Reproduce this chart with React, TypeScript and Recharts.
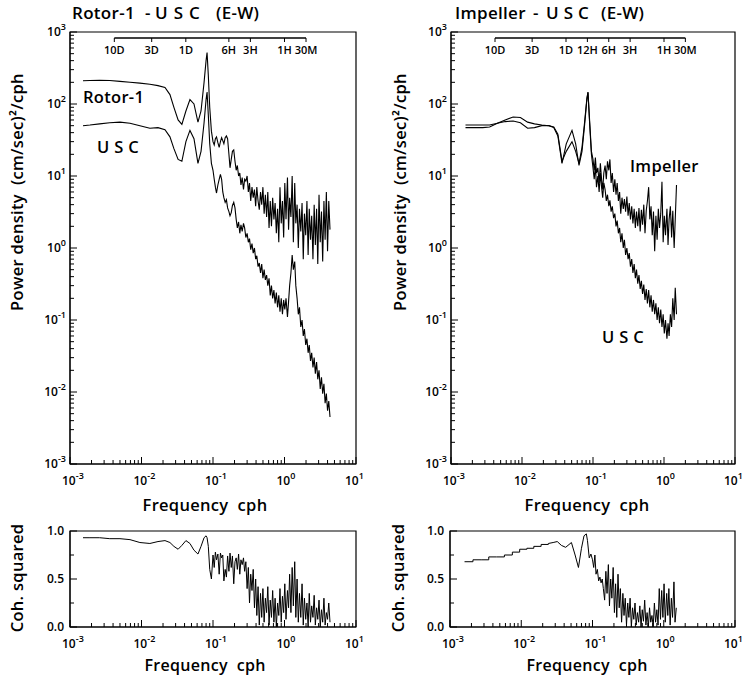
import React from "react";
import { LineChart, Line, XAxis, YAxis, ReferenceLine, ReferenceArea } from "recharts";

const FONT = "'Open Sans', 'Liberation Sans', sans-serif";

// ---- Rotor-1 / USC panel (frequency in cph) ----
const freqL = [
  0.00152, 0.0019, 0.0026, 0.0036, 0.005, 0.0069, 0.0095, 0.0131, 0.017, 0.0213,
  0.025, 0.0284, 0.0325, 0.0367, 0.0418, 0.0476, 0.0542, 0.0616, 0.068, 0.075,
  0.08, 0.0826, 0.086, 0.09, 0.095,
  0.100, 0.104, 0.108, 0.112, 0.117, 0.122, 0.127, 0.132, 0.137, 0.142,
  0.148, 0.154, 0.160, 0.167, 0.173, 0.180, 0.187, 0.195, 0.203, 0.211,
  0.219, 0.228, 0.237, 0.246, 0.256, 0.267, 0.277, 0.288, 0.300, 0.312,
  0.324, 0.337, 0.351, 0.365, 0.380, 0.395, 0.410, 0.427, 0.444, 0.462,
  0.480, 0.499, 0.519, 0.540, 0.562, 0.584, 0.608, 0.632, 0.657, 0.683,
  0.711, 0.739, 0.769, 0.800, 0.832, 0.865, 0.900, 0.936, 0.973, 1.01,
  1.05, 1.10, 1.14, 1.18, 1.23, 1.28, 1.33, 1.39, 1.44, 1.50,
  1.56, 1.62, 1.69, 1.76, 1.83, 1.90, 1.98, 2.06, 2.14, 2.22,
  2.31, 2.40, 2.50, 2.60, 2.70, 2.81, 2.92, 3.04, 3.16, 3.29,
  3.42, 3.56, 3.70, 3.85, 4.00, 4.16, 4.33,
];

const rotor1 = [
  210, 212, 214, 212, 206, 200, 195, 188, 180, 170,
  135, 90, 60, 52, 80, 115, 100, 56, 80, 200,
  400, 520, 250, 90, 42,
  30, 27, 33, 35, 29, 25, 30, 34, 31, 28,
  34, 36, 33, 20, 13, 17, 22, 23, 16, 12,
  14, 10, 11, 7.5, 9.5, 6.5, 9, 8.5, 10, 6,
  8, 4.5, 7, 5, 6.5, 3.8, 7, 4.5, 3.4, 6,
  4, 7, 3, 5.5, 2.7, 6, 1.9, 4.5, 2, 5,
  2.5, 4.2, 1.6, 3.5, 1.2, 7, 2.2, 4.5, 1.4, 8,
  2.5, 9.5, 1.8, 5, 2.7, 10, 1.2, 8, 2.2, 4,
  1.0, 3.5, 1.7, 4.2, 0.7, 3, 1.5, 4.5, 0.8, 3.5,
  1.3, 2.8, 0.7, 4, 1.1, 3.5, 0.6, 5.5, 1.2, 3.2,
  0.65, 4.5, 1.3, 6, 0.9, 4.5, 1.8,
];

const uscL = [
  50, 51, 53, 55, 56, 54, 50, 46, 47, 44,
  35, 24, 17, 16, 30, 43, 33, 15, 22, 55,
  115, 147, 70, 28, 15,
  12, 9, 7, 5.8, 7.5, 9, 10.5, 9, 6, 5,
  4.3, 4.7, 3.6, 3.2, 2.8, 3.1, 3.9, 4.3, 3.6, 2.5,
  1.9, 2.3, 1.6, 2.1, 1.7, 2.2, 1.9, 1.4, 1.6, 1.2,
  1.35, 0.95, 1.15, 0.85, 1.0, 0.7, 0.78, 0.55, 0.62, 0.45,
  0.6, 0.38, 0.5, 0.36, 0.42, 0.3, 0.38, 0.22, 0.3, 0.2,
  0.26, 0.17, 0.24, 0.15, 0.22, 0.13, 0.2, 0.12, 0.19, 0.14,
  0.2, 0.11, 0.18, 0.3, 0.45, 0.8, 0.5, 0.65, 0.3, 0.2,
  0.12, 0.15, 0.08, 0.1, 0.06, 0.075, 0.045, 0.055, 0.035, 0.045,
  0.027, 0.035, 0.022, 0.03, 0.018, 0.026, 0.015, 0.02, 0.011, 0.016,
  0.0095, 0.013, 0.007, 0.0095, 0.0055, 0.0075, 0.0045,
];

const cohL = [
  0.93, 0.93, 0.93, 0.92, 0.92, 0.91, 0.88, 0.87, 0.89, 0.9,
  0.88, 0.84, 0.81, 0.85, 0.9, 0.87, 0.8, 0.76, 0.84, 0.93,
  0.95, 0.93, 0.84, 0.6, 0.5,
  0.75, 0.62, 0.78, 0.7, 0.76, 0.55, 0.77, 0.72, 0.75, 0.48,
  0.6, 0.52, 0.74, 0.58, 0.77, 0.62, 0.74, 0.45, 0.68, 0.72,
  0.6, 0.76, 0.55, 0.7, 0.65, 0.72, 0.58, 0.68, 0.4, 0.62,
  0.25, 0.55, 0.38, 0.6, 0.2, 0.5, 0.12, 0.42, 0.02, 0.35,
  0.1, 0.4, 0.05, 0.3, 0.15, 0.42, 0.02, 0.28, 0.1, 0.38,
  0.05, 0.3, 0.0, 0.25, 0.12, 0.4, 0.05, 0.32, 0.15, 0.45,
  0.08, 0.38, 0.2, 0.55, 0.15, 0.62, 0.22, 0.68, 0.1, 0.5,
  0.05, 0.35, 0.1, 0.45, 0.02, 0.3, 0.08, 0.25, 0.0, 0.35,
  0.05, 0.22, 0.1, 0.33, 0.02, 0.2, 0.08, 0.28, 0.0, 0.18,
  0.05, 0.3, 0.02, 0.15, 0.08, 0.25, 0.05,
];

// ---- Impeller / USC panel ----
const freqR = [
  0.0016, 0.0021, 0.0028, 0.0035, 0.0045, 0.0058, 0.0075, 0.0095, 0.012, 0.015,
  0.019, 0.024, 0.028, 0.032, 0.0366, 0.042, 0.0506, 0.057, 0.0635, 0.07,
  0.076, 0.082, 0.085, 0.09, 0.095,
  0.100, 0.104, 0.108, 0.112, 0.117, 0.122, 0.127, 0.132, 0.137, 0.142,
  0.148, 0.154, 0.160, 0.167, 0.173, 0.180, 0.187, 0.195, 0.203, 0.211,
  0.219, 0.228, 0.237, 0.246, 0.256, 0.267, 0.277, 0.288, 0.300, 0.312,
  0.324, 0.337, 0.351, 0.365, 0.380, 0.395, 0.410, 0.427, 0.444, 0.462,
  0.480, 0.499, 0.519, 0.540, 0.562, 0.584, 0.608, 0.632, 0.657, 0.683,
  0.711, 0.739, 0.769, 0.800, 0.832, 0.865, 0.900, 0.936, 0.973, 1.01,
  1.05, 1.10, 1.14, 1.18, 1.23, 1.28, 1.33, 1.39, 1.44, 1.50,
];

const impeller = [
  47, 47, 47, 48, 54, 60, 66, 65, 56, 53,
  51, 50, 48, 38, 16, 22, 30, 22, 15, 25,
  55, 120, 145, 55, 22,
  17, 12, 18, 11, 13, 8, 15, 9, 6.5, 11,
  14, 9, 16, 12, 17, 8, 11, 6, 9, 5.5,
  8, 4.5, 6, 3, 5, 3.5, 4.8, 3.2, 5.2, 2.8,
  4.2, 2.5, 3.8, 2.2, 3.5, 1.9, 3.2, 2, 3.6, 1.7,
  3.4, 2.1, 4, 1.6, 3.3, 4.5, 7, 2.5, 3.8, 1.5,
  3.2, 0.9, 2.8, 1.3, 3.5, 1.9, 3, 8.3, 1.2, 2.8,
  1.5, 3.5, 1.1, 2.5, 3.8, 1.4, 3.3, 1.0, 2.5, 7.5,
];

const uscR = [
  51, 51, 51, 51, 54, 57, 58, 55, 46, 47,
  50, 50, 47, 36, 15, 28, 43, 28, 14, 22,
  50, 115, 146, 50, 20,
  13, 9, 14, 7, 10, 6, 11, 7, 5, 8,
  6.5, 4.5, 5.5, 3.8, 4.6, 3.2, 3.8, 2.6, 3.0, 2.0,
  2.4, 1.6, 1.9, 1.2, 1.6, 1.0, 1.3, 0.8, 1.0, 0.7,
  0.85, 0.55, 0.7, 0.45, 0.6, 0.38, 0.5, 0.32, 0.42, 0.27,
  0.35, 0.23, 0.31, 0.19, 0.27, 0.17, 0.26, 0.15, 0.22, 0.13,
  0.19, 0.12, 0.17, 0.1, 0.15, 0.09, 0.14, 0.08, 0.12, 0.065,
  0.1, 0.055, 0.09, 0.06, 0.12, 0.08, 0.2, 0.1, 0.28, 0.12,
];

const cohR = [
  0.68, 0.70, 0.70, 0.73, 0.73, 0.75, 0.78, 0.81, 0.82, 0.84,
  0.86, 0.87, 0.88, 0.89, 0.85, 0.83, 0.88, 0.75, 0.62, 0.82,
  0.95, 0.97, 0.9, 0.72, 0.76,
  0.7, 0.62, 0.75, 0.55, 0.6, 0.48, 0.52, 0.46, 0.5, 0.4,
  0.28, 0.58, 0.35, 0.65, 0.22, 0.5, 0.3, 0.62, 0.15, 0.45,
  0.1, 0.55, 0.2, 0.4, 0.05, 0.35, 0.12, 0.3, 0.02, 0.25,
  0.1, 0.3, 0.0, 0.2, 0.08, 0.25, 0.02, 0.15, 0.05, 0.22,
  0.0, 0.18, 0.06, 0.28, 0.02, 0.15, 0.0, 0.2, 0.05, 0.12,
  0.0, 0.25, 0.05, 0.18, 0.02, 0.4, 0.08, 0.38, 0.1, 0.45,
  0.05, 0.35, 0.12, 0.4, 0.02, 0.3, 0.1, 0.47, 0.05, 0.2,
];
// the low-frequency coherence is drawn as a staircase up to this index
const cohRStepEnd = 11;

// ---- axes ----
const decades = [0.001, 0.01, 0.1, 1, 10, 100];
const mantissas = [1, 2, 3, 4, 5, 6, 7, 8, 9];
const freqTicks = [...decades.slice(0, 4).flatMap((d) => mantissas.map((m) => m * d)), 10];
const powerTicks = [...decades.flatMap((d) => mantissas.map((m) => m * d)), 1000];
const cohTicks = [0, 0.25, 0.5, 0.75, 1];

// period scale across the top of the spectra
const periodLabelsL = ["10D", "3D", "1D", "6H", "3H", "1H", "30M"];
const periodHoursL = [240, 72, 24, 6, 3, 1, 0.5];
const periodLabelsR = ["10D", "3D", "1D", "12H", "6H", "3H", "1H", "30M"];
const periodHoursR = [240, 72, 24, 12, 6, 3, 1, 0.5];

const dataL = freqL.map((f, i) => ({ f, rotor: rotor1[i], usc: uscL[i], coh: cohL[i] }));
const dataR = freqR.map((f, i) => ({
  f,
  imp: impeller[i],
  usc: uscR[i],
  cohStep: i <= cohRStepEnd ? cohR[i] : null,
  cohLin: i >= cohRStepEnd ? cohR[i] : null,
}));

const isDecade = (v: number) => {
  const e = Math.log10(v);
  return Math.abs(e - Math.round(e)) < 1e-9;
};

const FreqTick = ({ x, y, payload }: any) => {
  const v = payload.value;
  const major = isDecade(v);
  const e = Math.round(Math.log10(v));
  return (
    <g>
      <line x1={x} x2={x} y1={y} y2={y - (major ? 7 : 4)} stroke="#000" strokeWidth={1} />
      {major && (
        <text x={x - (e === 1 ? 11 : 8)} y={y + 21} fontSize={12} fontFamily={FONT} fontWeight={600} fill="#000">
          10
          <tspan dy={-6} fontSize={9}>
            {e}
          </tspan>
        </text>
      )}
    </g>
  );
};

const PowerTick = ({ x, y, payload }: any) => {
  const v = payload.value;
  const major = isDecade(v);
  return (
    <g>
      <line x1={x} x2={x + (major ? 7 : 4)} y1={y} y2={y} stroke="#000" strokeWidth={1} />
      {major && (
        <text x={x - 4} y={y + 4} textAnchor="end" fontSize={12} fontFamily={FONT} fontWeight={600} fill="#000">
          10
          <tspan dy={-6} fontSize={9}>
            {Math.round(Math.log10(v))}
          </tspan>
        </text>
      )}
    </g>
  );
};

const CohTick = ({ x, y, payload }: any) => {
  const v = payload.value;
  const major = v === 0 || v === 0.5 || v === 1;
  return (
    <g>
      <line x1={x} x2={x + (major ? 7 : 4)} y1={y} y2={y} stroke="#000" strokeWidth={1} />
      {major && (
        <text x={x - 6} y={y + 4} textAnchor="end" fontSize={12} fontFamily={FONT} fontWeight={600} fill="#000">
          {v.toFixed(1)}
        </text>
      )}
    </g>
  );
};

const Txt = ({ x, y, size = 16.5, rotate = false, center = false, spacing = 0.3, children }: any) => (
  <div
    style={{
      position: "absolute",
      left: x,
      top: y,
      transform: rotate
        ? "translate(-50%,-50%) rotate(-90deg)"
        : center
        ? "translate(-50%,-50%)"
        : "translate(0,-50%)",
      whiteSpace: "pre",
      fontSize: size,
      fontWeight: 600,
      fontFamily: FONT,
      lineHeight: 1,
      letterSpacing: spacing,
      color: "#000",
    }}
  >
    {children}
  </div>
);

const freqAxis = (height: number) => (
  <XAxis
    dataKey="f"
    type="number"
    scale="log"
    domain={[0.001, 10]}
    ticks={freqTicks}
    interval={0}
    tick={(p: any) => <FreqTick {...p} />}
    tickLine={false}
    tickSize={0}
    tickMargin={0}
    height={height}
    axisLine={{ stroke: "#000" }}
    allowDataOverflow
  />
);

// period bar sits just under the top frame
const BAR_Y = 825;
const BAR_TICK_Y = 726;

const Spectrum = ({ data, keys, labels, hours, width, yWidth, right }: any) => (
  <LineChart width={width} height={520} data={data} margin={{ top: 32, right, bottom: 0, left: 0 }}>
    {freqAxis(56)}
    <YAxis
      type="number"
      scale="log"
      domain={[0.001, 1000]}
      ticks={powerTicks}
      interval={0}
      tick={(p: any) => <PowerTick {...p} />}
      tickLine={false}
      tickSize={0}
      tickMargin={0}
      width={yWidth}
      axisLine={{ stroke: "#000" }}
      allowDataOverflow
    />
    <ReferenceArea x1={0.001} x2={10} y1={0.001} y2={1000} fill="none" stroke="#000" strokeWidth={1.2} />
    <ReferenceLine
      segment={[
        { x: 1 / hours[0], y: BAR_Y },
        { x: 1 / hours[hours.length - 1], y: BAR_Y },
      ]}
      stroke="#000"
      strokeWidth={1.5}
    />
    {hours.map((h: number, i: number) => (
      <ReferenceLine
        key={labels[i]}
        segment={[
          { x: 1 / h, y: BAR_Y },
          { x: 1 / h, y: BAR_TICK_Y },
        ]}
        stroke="#000"
        label={{ value: labels[i], position: "bottom", offset: 4, fontSize: 11, fontFamily: FONT, fontWeight: 600, fill: "#000" }}
      />
    ))}
    {keys.map((k: string) => (
      <Line key={k} dataKey={k} type="linear" stroke="#000" strokeWidth={1.1} dot={false} isAnimationActive={false} />
    ))}
  </LineChart>
);

const Coherence = ({ data, width, yWidth, right, children }: any) => (
  <LineChart width={width} height={156} data={data} margin={{ top: 11, right, bottom: 0, left: 0 }}>
    {freqAxis(49)}
    <YAxis
      type="number"
      domain={[0, 1]}
      ticks={cohTicks}
      interval={0}
      tick={(p: any) => <CohTick {...p} />}
      tickLine={false}
      tickSize={0}
      tickMargin={0}
      width={yWidth}
      axisLine={{ stroke: "#000" }}
      allowDataOverflow
    />
    <ReferenceArea x1={0.001} x2={10} y1={0} y2={1} fill="none" stroke="#000" strokeWidth={1.2} />
    {children}
  </LineChart>
);

export default function App() {
  return (
    <div style={{ position: "absolute", left: 0, top: 0, width: 745, height: 676, background: "#fff", overflow: "hidden" }}>
      <div style={{ position: "absolute", left: 0, top: 0 }}>
        <Spectrum data={dataL} keys={["rotor", "usc"]} labels={periodLabelsL} hours={periodHoursL} width={372} yWidth={70} right={16} />
      </div>
      <div style={{ position: "absolute", left: 372, top: 0 }}>
        <Spectrum data={dataR} keys={["imp", "usc"]} labels={periodLabelsR} hours={periodHoursR} width={373} yWidth={79} right={10} />
      </div>
      <div style={{ position: "absolute", left: 0, top: 520 }}>
        <Coherence data={dataL} width={372} yWidth={70} right={16}>
          <Line dataKey="coh" type="linear" stroke="#000" strokeWidth={1} dot={false} isAnimationActive={false} />
        </Coherence>
      </div>
      <div style={{ position: "absolute", left: 372, top: 520 }}>
        <Coherence data={dataR} width={373} yWidth={78} right={10}>
          <Line dataKey="cohStep" type="stepAfter" stroke="#000" strokeWidth={1} dot={false} isAnimationActive={false} />
          <Line dataKey="cohLin" type="linear" stroke="#000" strokeWidth={1} dot={false} isAnimationActive={false} />
        </Coherence>
      </div>

      {/* titles, set piece by piece to keep the wide gaps */}
      <Txt x={72} y={12} size={17}>Rotor-1</Txt>
      <Txt x={145} y={12} size={17}>-</Txt>
      <Txt x={155} y={12} size={17} spacing={6}>USC</Txt>
      <Txt x={216} y={12} size={17}>(E-W)</Txt>
      <Txt x={455} y={12} size={17}>Impeller</Txt>
      <Txt x={533} y={12} size={17}>-</Txt>
      <Txt x={546} y={12} size={17} spacing={5}>USC</Txt>
      <Txt x={601} y={12} size={17}>(E-W)</Txt>

      <Txt x={83} y={97}>Rotor-1</Txt>
      <Txt x={97} y={147} spacing={5}>USC</Txt>
      <Txt x={630} y={166}>Impeller</Txt>
      <Txt x={602} y={337} spacing={5}>USC</Txt>

      <Txt x={17} y={192} rotate>
        {"Power density  (cm/sec)²/cph"}
      </Txt>
      <Txt x={400} y={192} rotate>
        {"Power density  (cm/sec)²/cph"}
      </Txt>
      <Txt x={17} y={578} rotate>
        Coh. squared
      </Txt>
      <Txt x={398} y={578} rotate>
        Coh. squared
      </Txt>

      <Txt x={205} y={505} center>
        {"Frequency  cph"}
      </Txt>
      <Txt x={587} y={505} center>
        {"Frequency  cph"}
      </Txt>
      <Txt x={205} y={665} center size={16}>
        {"Frequency  cph"}
      </Txt>
      <Txt x={587} y={665} center size={16}>
        {"Frequency  cph"}
      </Txt>
    </div>
  );
}
